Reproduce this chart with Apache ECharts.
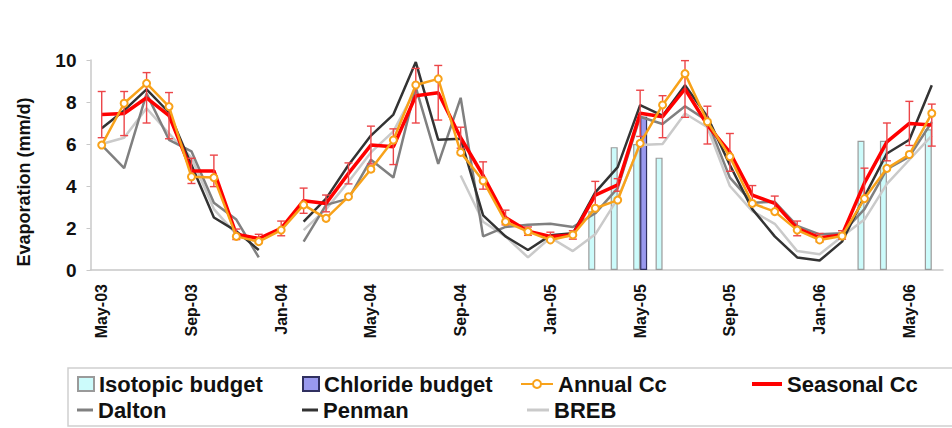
<!DOCTYPE html>
<html><head><meta charset="utf-8">
<script src="https://cdn.jsdelivr.net/npm/echarts@6/dist/echarts.min.js"></script>
<style>html,body{margin:0;padding:0;background:#fff}#c{width:952px;height:428px}</style>
</head><body><div id="c"></div>
<script>
const months = ['May-03','Jun-03','Jul-03','Aug-03','Sep-03','Oct-03','Nov-03','Dec-03','Jan-04','Feb-04','Mar-04','Apr-04','May-04','Jun-04','Jul-04','Aug-04','Sep-04','Oct-04','Nov-04','Dec-04','Jan-05','Feb-05','Mar-05','Apr-05','May-05','Jun-05','Jul-05','Aug-05','Sep-05','Oct-05','Nov-05','Dec-05','Jan-06','Feb-06','Mar-06','Apr-06','May-06','Jun-06'];
const yTicks = [0, 2, 4, 6, 8, 10];
const isotopic = [null,null,null,null,null,null,null,null,null,null,null,null,null,null,null,null,null,null,null,null,null,null,2.8,5.85,6.0,5.35,null,null,null,null,null,null,null,null,6.15,6.15,null,6.7];
const chloride = [null,null,null,null,null,null,null,null,null,null,null,null,null,null,null,null,null,null,null,null,null,null,null,null,7.3,null,null,null,null,null,null,null,null,null,null,null,null,null];
const annualCc = [5.95,7.94,8.89,7.78,4.44,4.4,1.6,1.35,1.9,3.1,2.46,3.49,4.8,6.19,8.81,9.1,5.6,4.25,2.3,1.83,1.43,1.67,2.94,3.33,6.03,7.86,9.35,7.06,5.4,3.17,2.78,1.9,1.43,1.62,3.4,4.84,5.5,7.46];
const seasonalCc = [7.4,7.45,8.2,7.35,4.72,4.72,1.7,1.5,1.98,3.3,3.17,4.6,5.95,5.87,8.3,8.44,6.3,4.5,2.5,1.85,1.6,1.67,3.57,4.05,7.46,7.3,8.62,6.9,5.6,3.57,3.17,1.98,1.54,1.67,4.15,6.1,6.98,6.9];
const seasonalErr = [1.1,1.05,1.2,1.1,0.6,0.75,0.25,0.2,0.35,0.6,0.4,0.5,0.9,0.85,1.3,1.3,0.5,0.65,0.35,0.2,0.2,0.2,0.65,0.3,1.1,1.0,1.35,0.9,0.9,0.45,0.35,0.35,0.2,0.2,0.7,0.9,1.05,1.0];
const dalton = [5.95,4.85,8.4,6.2,5.65,3.2,2.4,0.6,null,1.35,3.1,3.4,5.25,4.4,8.7,5.05,8.2,1.6,2.05,2.15,2.2,2.05,2.7,3.9,7.3,6.95,7.8,7.1,4.4,3.2,3.25,2.1,1.7,1.75,2.9,4.8,5.4,7.05];
const penman = [6.75,7.6,8.6,7.5,5.0,2.5,1.85,0.95,null,2.3,3.4,5.0,6.4,7.4,9.9,6.2,6.25,2.6,1.6,0.95,1.65,1.75,3.7,4.9,7.85,7.35,8.8,7.3,5.0,2.9,1.6,0.6,0.45,1.35,3.5,5.55,6.2,8.8];
const breb = [6.0,6.3,7.7,6.5,5.35,2.9,1.7,1.3,null,1.9,2.9,4.2,5.6,6.6,8.6,null,4.5,2.3,1.6,0.6,1.55,0.9,1.7,3.4,5.95,6.0,7.45,6.8,4.0,2.8,2.2,0.9,0.75,1.6,2.4,4.1,5.25,6.4];

const FONT = 'Liberation Sans, Arial, Helvetica, sans-serif';
const chart = echarts.init(document.getElementById('c'), null, {renderer: 'svg'});
const errData = seasonalCc.map((v, i) => [i, v - seasonalErr[i], v + seasonalErr[i]]);
const legendBase = {orient: 'horizontal', padding: 0, itemHeight: 14, selectedMode: false,
  textStyle: {fontSize: 22, fontWeight: 'bold', color: '#111', fontFamily: FONT}};
const lineCommon = {type: 'line', symbol: 'none', connectNulls: false};

chart.setOption({
  animation: false,
  backgroundColor: '#fff',
  grid: {left: 90.5, right: 9, top: 60, bottom: 158, containLabel: false},
  xAxis: {
    type: 'category', data: months, boundaryGap: true,
    axisLine: {lineStyle: {color: '#c8c8c8', width: 1.5}},
    axisTick: {interval: 3, length: 5, lineStyle: {color: '#c8c8c8', width: 1.5}},
    axisLabel: {interval: 3, rotate: 90, margin: 14, fontSize: 16, fontWeight: 'bold', color: '#111', fontFamily: FONT},
    splitLine: {show: false}
  },
  yAxis: {
    type: 'value', min: yTicks[0], max: yTicks[yTicks.length - 1], interval: 2,
    name: 'Evaporation (mm/d)', nameLocation: 'middle', nameGap: 58, nameRotate: 90,
    nameTextStyle: {fontSize: 18, fontWeight: 'bold', color: '#111', fontFamily: FONT, padding: [0, 34, 0, 0]},
    axisLine: {show: true, lineStyle: {color: '#c8c8c8', width: 1.5}},
    axisTick: {show: true, length: 4, lineStyle: {color: '#c8c8c8'}},
    axisLabel: {margin: 14, fontSize: 19, fontWeight: 'bold', color: '#111', fontFamily: FONT},
    splitLine: {show: false}
  },
  legend: [
    Object.assign({}, legendBase, {data: [{name: 'Isotopic budget', icon: 'rect'}], left: 77, top: 373, itemWidth: 16}),
    Object.assign({}, legendBase, {data: [{name: 'Chloride budget', icon: 'rect'}], left: 302, top: 373, itemWidth: 16}),
    Object.assign({}, legendBase, {data: ['Annual Cc'], left: 520, top: 373, itemWidth: 32, itemHeight: 10}),
    Object.assign({}, legendBase, {data: [{name: 'Seasonal Cc', icon: 'rect'}], left: 752, top: 373, itemWidth: 30, itemHeight: 4}),
    Object.assign({}, legendBase, {data: [{name: 'Dalton', icon: 'rect'}], left: 77, top: 399, itemWidth: 16, itemHeight: 3}),
    Object.assign({}, legendBase, {data: [{name: 'Penman', icon: 'rect'}], left: 302, top: 399, itemWidth: 16, itemHeight: 3}),
    Object.assign({}, legendBase, {data: [{name: 'BREB', icon: 'rect'}], left: 527, top: 399, itemWidth: 22, itemHeight: 3})
  ],
  graphic: [{type: 'rect', shape: {x: 68, y: 368, width: 900, height: 58},
    style: {fill: 'none', stroke: '#cfcfcf', lineWidth: 1.5}, silent: true, z: -1}],
  series: [
    {name: 'Isotopic budget', type: 'bar', data: isotopic, barWidth: 7, barGap: '0%',
     itemStyle: {color: '#ccfbfb', borderColor: '#9a9a9a', borderWidth: 1.2}, z: 1},
    {name: 'Chloride budget', type: 'bar', data: chloride, barWidth: 7, barGap: '0%',
     itemStyle: {color: '#9999ee', borderColor: '#303060', borderWidth: 1.2}, z: 1},
    Object.assign({}, lineCommon, {name: 'BREB', data: breb, lineStyle: {color: '#cacaca', width: 2.5}, itemStyle: {color: '#cacaca'}, z: 2}),
    Object.assign({}, lineCommon, {name: 'Dalton', data: dalton, lineStyle: {color: '#808080', width: 2.5}, itemStyle: {color: '#808080'}, z: 2}),
    Object.assign({}, lineCommon, {name: 'Penman', data: penman, lineStyle: {color: '#333333', width: 2.5}, itemStyle: {color: '#333333'}, z: 2}),
    Object.assign({}, lineCommon, {name: 'Seasonal Cc', data: seasonalCc, lineStyle: {color: '#ff0000', width: 3.5}, itemStyle: {color: '#ff0000'}, z: 3}),
    {name: 'Seasonal Cc error', type: 'custom', data: errData, encode: {x: 0, y: [1, 2]}, z: 4,
     renderItem: function (params, api) {
       const top = api.coord([api.value(0), api.value(2)]);
       const bot = api.coord([api.value(0), api.value(1)]);
       const w = 4, st = {stroke: '#ec4548', lineWidth: 1.4};
       return {type: 'group', children: [
         {type: 'line', shape: {x1: top[0], y1: top[1], x2: bot[0], y2: bot[1]}, style: st},
         {type: 'line', shape: {x1: top[0] - w, y1: top[1], x2: top[0] + w, y2: top[1]}, style: st},
         {type: 'line', shape: {x1: bot[0] - w, y1: bot[1], x2: bot[0] + w, y2: bot[1]}, style: st}
       ]};
     }},
    {name: 'Annual Cc', type: 'line', data: annualCc, symbol: 'emptyCircle', symbolSize: 7, showSymbol: true,
     lineStyle: {color: '#f8a21a', width: 2.5}, itemStyle: {color: '#f8a21a', borderWidth: 1.4}, z: 5}
  ]
});
</script></body></html>
